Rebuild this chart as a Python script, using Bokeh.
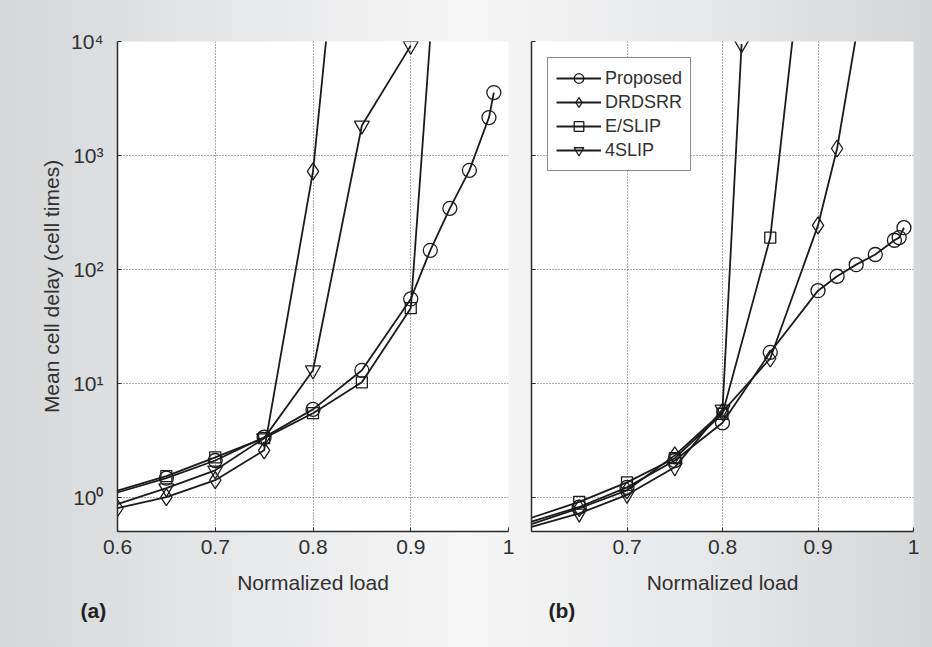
from bokeh.plotting import figure
from bokeh.models import Range1d, FixedTicker, Title
from bokeh.layouts import row
from bokeh.embed import file_html
from bokeh.resources import INLINE

# ---------------- data ----------------
load_ticks = [0.6, 0.7, 0.8, 0.9, 1.0]
delay_ticks = [1, 10, 100, 1000, 10000]
delay_tick_labels = ["10\u2070", "10\u00b9", "10\u00b2", "10\u00b3", "10\u2074"]
series_names = ["Proposed", "DRDSRR", "E/SLIP", "4SLIP"]

# panel (a)
a_proposed_x = [0.6, 0.65, 0.7, 0.75, 0.8, 0.85, 0.9, 0.92, 0.94, 0.96, 0.98, 0.985]
a_proposed_y = [1.1, 1.47, 2.1, 3.36, 5.9, 13, 55, 147, 343, 740, 2150, 3560]
a_drdsrr_x = [0.6, 0.65, 0.7, 0.75, 0.8, 0.85]
a_drdsrr_y = [0.8, 1.0, 1.41, 2.58, 725, 1.4e7]
a_eslip_x = [0.6, 0.65, 0.7, 0.75, 0.8, 0.85, 0.9, 0.95]
a_eslip_y = [1.14, 1.53, 2.24, 3.3, 5.46, 10.2, 45.6, 4e7]
a_4slip_x = [0.6, 0.65, 0.7, 0.75, 0.8, 0.85, 0.9]
a_4slip_y = [0.87, 1.2, 1.72, 3.3, 13, 1830, 9200]

# panel (b)
b_proposed_x = [0.6, 0.65, 0.7, 0.75, 0.8, 0.85, 0.9, 0.92, 0.94, 0.96, 0.98, 0.985, 0.99]
b_proposed_y = [0.61, 0.82, 1.22, 2.1, 4.5, 18.7, 65, 87, 110, 135, 180, 190, 232]
b_drdsrr_x = [0.6, 0.65, 0.7, 0.75, 0.8, 0.85, 0.9, 0.92, 0.95]
b_drdsrr_y = [0.58, 0.8, 1.15, 2.33, 5.6, 16.5, 243, 1150, 35000]
b_eslip_x = [0.6, 0.65, 0.7, 0.75, 0.8, 0.85, 0.9]
b_eslip_y = [0.66, 0.91, 1.35, 2.2, 5.4, 190, 1e6]
b_4slip_x = [0.6, 0.65, 0.7, 0.75, 0.8, 0.82]
b_4slip_y = [0.55, 0.72, 1.05, 1.83, 5.9, 9500]

panel_a = {"Proposed": (a_proposed_x, a_proposed_y), "DRDSRR": (a_drdsrr_x, a_drdsrr_y),
           "E/SLIP": (a_eslip_x, a_eslip_y), "4SLIP": (a_4slip_x, a_4slip_y)}
panel_b = {"Proposed": (b_proposed_x, b_proposed_y), "DRDSRR": (b_drdsrr_x, b_drdsrr_y),
           "E/SLIP": (b_eslip_x, b_eslip_y), "4SLIP": (b_4slip_x, b_4slip_y)}
# markers visible at the left edge of the axes
edge_markers_a = ["DRDSRR"]
edge_markers_b = []

# ---------------- style ----------------
FONT = "Liberation Sans"
TXT = "#303030"
INK = "#1b1b1b"
marker_style = {"Proposed": ("circle", 14), "DRDSRR": ("diamond", 17),
                "E/SLIP": ("square", 11), "4SLIP": ("inverted_triangle", 15)}


def make_fig(frame_w, border_l, border_r, show_y_labels, x_overrides):
    p = figure(frame_width=frame_w, frame_height=490,
               x_range=Range1d(0.6, 1.0), y_range=Range1d(0.5, 10000),
               y_axis_type="log", output_backend="svg", toolbar_location=None,
               min_border_left=border_l, min_border_right=border_r,
               min_border_top=41, min_border_bottom=116)
    p.border_fill_alpha = 0
    p.background_fill_color = "white"
    p.outline_line_color = None

    p.xaxis.ticker = FixedTicker(ticks=load_ticks)
    p.yaxis.ticker = FixedTicker(ticks=delay_ticks)
    p.xaxis.major_label_overrides = x_overrides
    if show_y_labels:
        p.yaxis.major_label_overrides = {t: l for t, l in zip(delay_ticks, delay_tick_labels)}
        p.yaxis.axis_label = "Mean cell delay (cell times)"
        p.yaxis.major_label_standoff = 14
        p.yaxis.axis_label_standoff = 5
    else:
        p.yaxis.major_label_overrides = {t: "" for t in delay_ticks}
        p.yaxis.major_label_standoff = 0
    p.xaxis.axis_label = "Normalized load"
    p.xaxis.major_label_standoff = 8
    p.xaxis.axis_label_standoff = 14

    for ax in (p.xaxis, p.yaxis):
        ax.axis_line_color = "#2a2a2a"
        ax.axis_line_width = 1.5
        ax.major_tick_out = 0
        ax.major_tick_in = 4
        ax.major_tick_line_color = "#2a2a2a"
        ax.minor_tick_line_color = None
        ax.major_label_text_font = FONT
        ax.major_label_text_font_size = "21px"
        ax.major_label_text_color = TXT
        ax.axis_label_text_font = FONT
        ax.axis_label_text_font_size = "21px"
        ax.axis_label_text_font_style = "normal"
        ax.axis_label_text_color = TXT

    for g in (p.xgrid, p.ygrid):
        g.grid_line_color = "#555555"
        g.grid_line_dash = "1 2"
        g.grid_line_width = 1
    return p


def draw(p, data, edge_markers, with_legend):
    for name in series_names:
        xs, ys = data[name]
        mk, sz = marker_style[name]
        kw = {"legend_label": name} if with_legend else {}
        p.line(xs, ys, line_color=INK, line_width=1.8, **kw)
        mx = [x for x in xs if x > 0.6 or name in edge_markers]
        my = [y for x, y in zip(xs, ys) if x > 0.6 or name in edge_markers]
        p.scatter(mx, my, marker=mk, size=sz, line_color=INK, line_width=1.3,
                  fill_alpha=0, **kw)


p1 = make_fig(391, 117, 10, True, {1.0: "1"})
draw(p1, panel_a, edge_markers_a, False)
p1.add_layout(Title(text="(a)", align="left", offset=-37, standoff=0, text_font=FONT,
                    text_font_size="21px", text_font_style="bold", text_color="#222222"), "below")

p2 = make_fig(382, 13, 19, False, {0.6: "", 1.0: "1"})
draw(p2, panel_b, edge_markers_b, True)
p2.add_layout(Title(text="(b)", align="left", offset=17, standoff=0, text_font=FONT,
                    text_font_size="21px", text_font_style="bold", text_color="#222222"), "below")

lg = p2.legend[0]
lg.location = "top_left"
lg.margin = 16
lg.padding = 8
lg.spacing = 0
lg.glyph_height = 24
lg.glyph_width = 45
lg.label_height = 20
lg.label_standoff = 4
lg.label_text_font = FONT
lg.label_text_font_size = "18px"
lg.label_text_color = TXT
lg.border_line_color = "#1b1b1b"
lg.border_line_width = 1
lg.background_fill_color = "white"
lg.background_fill_alpha = 1

layout = row(p1, p2, styles={
    "background": "linear-gradient(to right, #d6d7d9 0%, #e6e7e9 25%, #f6f6f6 50%, #e7e8ea 75%, #d5d6d8 100%)"})

open("out.html", "w").write(file_html(layout, INLINE))
